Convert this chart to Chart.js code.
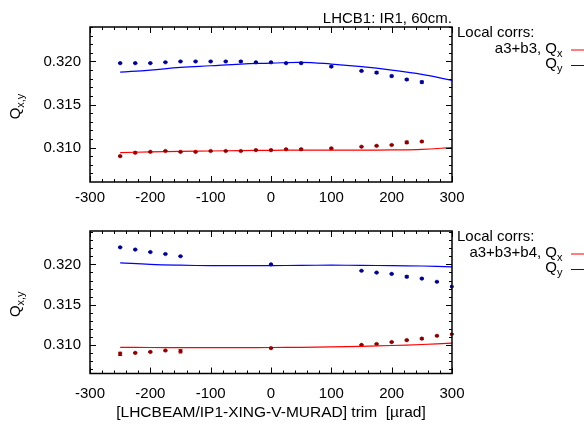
<!DOCTYPE html>
<html>
<head>
<meta charset="utf-8">
<script src="https://cdn.jsdelivr.net/npm/chart.js@4.4.0/dist/chart.umd.min.js"></script>
<style>
  html, body { margin: 0; padding: 0; background: #fff; }
  #wrap { position: relative; width: 584px; height: 426px; }
  .panel { position: absolute; left: 0; width: 584px; height: 213px; }
</style>
</head>
<body>
<div id="wrap">
  <div class="panel" style="top:0"><canvas id="top"></canvas></div>
  <div class="panel" style="top:213px"><canvas id="bottom"></canvas></div>
</div>
<script>
// measured points, upper panel (a3+b3)
const xTop = [-250, -225, -200, -175, -150, -125, -100, -75, -50, -25, 0, 25, 50, 100, 150, 175, 200, 225, 250];
const qxTop = [0.3090, 0.3094, 0.3095, 0.3096, 0.3095, 0.3095, 0.3096, 0.3096, 0.3096, 0.3097, 0.3097, 0.3098, 0.3098, 0.3099, 0.3101, 0.3102, 0.3103, 0.3106, 0.3107];
const qxTopErr = [0.00005, 0.0001, 0.00006, 0.00005, 0.00005, 0.00004, 0.00004, 0.00004, 0.00004, 0.00004, 0.00006, 0.00005, 0.0001, 0.00006, 0.00004, 0.00006, 0.00006, 0.00014, 0.00006];
const qyTop = [0.3198, 0.3198, 0.3198, 0.3199, 0.3200, 0.3200, 0.3200, 0.3200, 0.3200, 0.3199, 0.3199, 0.3198, 0.3198, 0.3194, 0.3189, 0.3187, 0.3183, 0.3179, 0.3176];
const qyTopErr = [0.00004, 0.00004, 0.00004, 0.00004, 0.00004, 0.00004, 0.00004, 0.00004, 0.00006, 0.00004, 0.00004, 0.00004, 0.00006, 0.00006, 0.00006, 0.0001, 0.0001, 0.00008, 0.00012];

// measured points, lower panel (a3+b3+b4)
const xBot = [-250, -225, -200, -175, -150, 0, 150, 175, 200, 225, 250, 275, 300];
const qxBot = [0.30889, 0.30901, 0.30913, 0.30930, 0.30921, 0.30960, 0.31000, 0.31012, 0.31035, 0.31059, 0.31078, 0.31113, 0.31133];
const qxBotErr = [0.0002, 0.00005, 0.00006, 0.00006, 0.0002, 0.00004, 0.00005, 0.00005, 0.00006, 0.00006, 0.00008, 0.00006, 0.00006];
const qyBot = [0.32212, 0.32184, 0.32153, 0.32129, 0.32101, 0.32000, 0.31921, 0.31898, 0.31882, 0.31847, 0.31824, 0.31784, 0.31725];
const qyBotErr = [0.00004, 0.00004, 0.00005, 0.00004, 0.00004, 0.00004, 0.00004, 0.00004, 0.00004, 0.00012, 0.00006, 0.00004, 0.00006];

// model curves
const xModel = [-250, -200, -150, -100, -50, 0, 50, 100, 150, 200, 250, 300];
const qxModelTop = [0.30940, 0.30950, 0.30955, 0.30960, 0.30965, 0.30968, 0.30970, 0.30970, 0.30970, 0.30973, 0.30980, 0.31000];
const qyModelTop = [0.31876, 0.31900, 0.31930, 0.31950, 0.31970, 0.31980, 0.31990, 0.31970, 0.31940, 0.31900, 0.31850, 0.31780];
const qxModelBot = [0.30970, 0.30968, 0.30966, 0.30966, 0.30967, 0.30968, 0.30970, 0.30975, 0.30983, 0.30993, 0.31005, 0.31022];
const qyModelBot = [0.32020, 0.32000, 0.31990, 0.31985, 0.31985, 0.31985, 0.31988, 0.31990, 0.31988, 0.31985, 0.31980, 0.31970];

const yTicks = [0.310, 0.315, 0.320];
const xTicks = [-300, -200, -100, 0, 100, 200, 300];

const FONT = 'Liberation Sans, Arial, Helvetica, sans-serif';
const PT_RED = '#8b0000';
const PT_BLUE = '#00008b';

function pts(xs, ys) {
  return xs.map((x, i) => ({ x: x, y: ys[i] }));
}

// draw error bars, frame, inward ticks and the text bits
const framePlugin = {
  id: 'frame',
  afterDatasetsDraw(chart, args, opts) {
    const ctx = chart.ctx;
    const xs = chart.scales.x;
    const ys = chart.scales.y;
    const a = chart.chartArea;

    // error bars
    chart.data.datasets.forEach((ds) => {
      if (!ds.err) return;
      ctx.save();
      ctx.strokeStyle = ds.pointBackgroundColor;
      ctx.lineWidth = 1;
      ds.data.forEach((p, i) => {
        const px = xs.getPixelForValue(p.x);
        const y1 = ys.getPixelForValue(p.y + ds.err[i]);
        const y2 = ys.getPixelForValue(p.y - ds.err[i]);
        ctx.beginPath();
        ctx.moveTo(px, y1); ctx.lineTo(px, y2);
        ctx.moveTo(px - 2, y1); ctx.lineTo(px + 2, y1);
        ctx.moveTo(px - 2, y2); ctx.lineTo(px + 2, y2);
        ctx.stroke();
      });
      ctx.restore();
    });

    ctx.save();
    ctx.strokeStyle = '#000';
    ctx.lineWidth = 1.5;
    ctx.strokeRect(a.left, a.top, a.right - a.left, a.bottom - a.top);
    ctx.lineWidth = 1;
    ctx.beginPath();
    for (let v = -300; v <= 300; v += 20) {
      const px = Math.round(xs.getPixelForValue(v)) + 0.5;
      const len = v % 100 === 0 ? 6 : 3;
      ctx.moveTo(px, a.bottom); ctx.lineTo(px, a.bottom - len);
      ctx.moveTo(px, a.top); ctx.lineTo(px, a.top + len);
    }
    for (let k = 307; k <= 324; k++) {
      const py = Math.round(ys.getPixelForValue(k / 1000)) + 0.5;
      const len = k % 5 === 0 ? 6 : 3;
      ctx.moveTo(a.left, py); ctx.lineTo(a.left + len, py);
      ctx.moveTo(a.right, py); ctx.lineTo(a.right - len, py);
    }
    ctx.stroke();

    // y axis title Q_{x,y}
    ctx.fillStyle = '#000';
    ctx.translate(20, (a.top + a.bottom) / 2 + 2);
    ctx.rotate(-Math.PI / 2);
    ctx.textBaseline = 'alphabetic';
    ctx.font = '15px ' + FONT;
    const qw = ctx.measureText('Q').width;
    ctx.font = '11px ' + FONT;
    const sw = ctx.measureText('x,y').width;
    const x0 = -(qw + sw) / 2;
    ctx.font = '15px ' + FONT;
    ctx.fillText('Q', x0, 0);
    ctx.font = '11px ' + FONT;
    ctx.fillText('x,y', x0 + qw, 4);
    ctx.restore();

    // legend block right of the frame
    ctx.save();
    ctx.fillStyle = '#000';
    ctx.font = '15px ' + FONT;
    ctx.textBaseline = 'middle';
    ctx.textAlign = 'left';
    ctx.fillText('Local corrs:', a.right + 5, a.top + 6);
    const r1 = a.top + 22;
    const r2 = a.top + 37;
    const qx = 557;
    ctx.textAlign = 'right';
    ctx.fillText(opts.tag + ', Q', qx, r1);
    ctx.fillText('Q', qx, r2);
    ctx.textAlign = 'left';
    ctx.font = '11px ' + FONT;
    ctx.fillText('x', qx, r1 + 5);
    ctx.fillText('y', qx, r2 + 5);
    ctx.lineWidth = 1;
    ctx.strokeStyle = '#ff0000';
    ctx.beginPath(); ctx.moveTo(571, r1 + 1); ctx.lineTo(584, r1 + 1); ctx.stroke();
    ctx.strokeStyle = '#0000ff';
    ctx.beginPath(); ctx.moveTo(571, r2 + 1.5); ctx.lineTo(584, r2 + 1.5); ctx.stroke();

    if (opts.title) {
      ctx.font = '15px ' + FONT;
      ctx.textAlign = 'right';
      ctx.textBaseline = 'alphabetic';
      ctx.fillText(opts.title, a.right, 23);
    }
    ctx.restore();
  }
};

function makeChart(id, cfg) {
  const datasets = [
    { type: 'line', data: pts(xModel, cfg.qxModel), borderColor: '#ff0000', borderWidth: 1.2, pointRadius: 0, tension: 0.4, fill: false },
    { type: 'line', data: pts(xModel, cfg.qyModel), borderColor: '#0000ff', borderWidth: 1.2, pointRadius: 0, tension: 0.4, fill: false },
    { type: 'scatter', data: pts(cfg.x, cfg.qx), err: cfg.qxErr, pointBackgroundColor: PT_RED, pointBorderColor: PT_RED, pointRadius: 1.8, pointBorderWidth: 0.5 },
    { type: 'scatter', data: pts(cfg.x, cfg.qy), err: cfg.qyErr, pointBackgroundColor: PT_BLUE, pointBorderColor: PT_BLUE, pointRadius: 1.8, pointBorderWidth: 0.5 }
  ];
  return new Chart(document.getElementById(id), {
    data: { datasets: datasets },
    options: {
      responsive: true,
      maintainAspectRatio: false,
      animation: false,
      events: [],
      layout: { padding: { left: 0, right: 132, top: cfg.top, bottom: 0 } },
      plugins: {
        legend: { display: false },
        tooltip: { enabled: false },
        frame: { tag: cfg.tag, title: cfg.title }
      },
      scales: {
        x: {
          type: 'linear', min: -300, max: 300,
          afterBuildTicks: (s) => { s.ticks = xTicks.map(v => ({ value: v })); },
          afterFit: (s) => { s.height = cfg.xh; },
          grid: { display: false, drawTicks: false },
          border: { display: false },
          ticks: { color: '#000', font: { family: FONT, size: 15 }, padding: cfg.tickPad, maxRotation: 0 },
          title: {
            display: !!cfg.xTitle, text: cfg.xTitle || '', color: '#000',
            font: { family: FONT, size: 15.5 }, padding: { top: 4 }
          }
        },
        y: {
          type: 'linear', min: cfg.ymin, max: cfg.ymax,
          afterBuildTicks: (s) => { s.ticks = yTicks.map(v => ({ value: v })); },
          afterFit: (s) => { s.width = 90; },
          grid: { display: false, drawTicks: false },
          border: { display: false },
          ticks: { color: '#000', font: { family: FONT, size: 15 }, padding: 9, callback: (v) => v.toFixed(3) }
        }
      }
    },
    plugins: [framePlugin]
  });
}

makeChart('top', {
  x: xTop, qx: qxTop, qxErr: qxTopErr, qy: qyTop, qyErr: qyTopErr,
  qxModel: qxModelTop, qyModel: qyModelTop,
  tag: 'a3+b3', title: 'LHCB1: IR1, 60cm.', top: 27, xh: 31, tickPad: 7,
  ymin: 0.306, ymax: 0.324
});
makeChart('bottom', {
  x: xBot, qx: qxBot, qxErr: qxBotErr, qy: qyBot, qyErr: qyBotErr,
  qxModel: qxModelBot, qyModel: qyModelBot,
  tag: 'a3+b3+b4', title: '', top: 10, xh: 52.5, tickPad: 11,
  ymin: 0.30645, ymax: 0.32415,
  xTitle: '[LHCBEAM/IP1-XING-V-MURAD] trim  [\u00b5rad]'
});
</script>
</body>
</html>
